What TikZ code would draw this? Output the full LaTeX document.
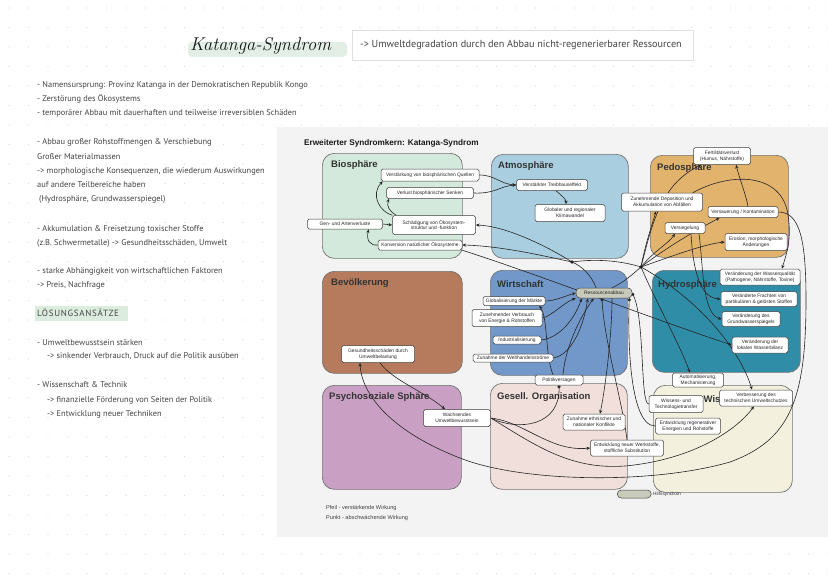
\documentclass[tikz,border=0pt]{standalone}
\usepackage{fontspec}
\usetikzlibrary{arrows.meta}
\newfontfamily\notefont{PT Sans}
\newfontfamily\diafont{Liberation Sans}
\definecolor{biocol}{HTML}{D3E9DB}
\definecolor{atmocol}{HTML}{A9CEE0}
\definecolor{pedocol}{HTML}{E2B36C}
\definecolor{bevcol}{HTML}{B67A5C}
\definecolor{wirtcol}{HTML}{7297C9}
\definecolor{hydrocol}{HTML}{2F8DA8}
\definecolor{psycol}{HTML}{C9A0C3}
\definecolor{gescol}{HTML}{F0DFDB}
\definecolor{wisscol}{HTML}{F3F1DE}
\definecolor{hilfscol}{HTML}{C8CABC}
\definecolor{hlgreen}{HTML}{DCECDF}
\definecolor{titlehl}{HTML}{E3EFE6}
\definecolor{notecol}{HTML}{444444}
\definecolor{scanbg}{HTML}{F3F3F3}
\definecolor{dotcol}{HTML}{D9D9D9}
\pgfdeclarelayer{paper}
\pgfdeclarelayer{spheres}
\pgfdeclarelayer{links}
\pgfsetlayers{paper,spheres,links,main}
\tikzset{
  sphere/.style={draw=black!55, line width=0.7pt, rounded corners=12pt, inner sep=0pt, anchor=north west},
  slabel/.style={anchor=west, inner sep=0pt, font=\diafont\bfseries\fontsize{9.5}{10}\selectfont, text=black!80},
  box/.style={draw=black!75, fill=white, line width=0.5pt, rounded corners=1.8pt, align=center, inner xsep=1pt, inner ysep=0.5pt, font=\diafont\fontsize{4.9}{5.6}\selectfont, text=black!85},
  hilfs/.style={box, fill=hilfscol, rounded corners=4pt},
  sz/.style 2 args={minimum width=#1pt, minimum height=#2pt},
  con/.style={line width=0.6pt, draw=black!85},
  ar/.style={con, -{Stealth[length=3.8pt,width=3.2pt]}},
  pt/.style={con, -{Circle[length=3.2pt]}},
  note/.style={anchor=base west, inner sep=0pt, font=\notefont\fontsize{8.4}{9}\selectfont, text=notecol},
  legend/.style={anchor=west, inner sep=0pt, font=\diafont\fontsize{5.6}{6}\selectfont, text=black!75},
}
\begin{document}
\begin{tikzpicture}[x=1pt,y=-1pt]
\useasboundingbox (0,0) rectangle (828,586);

% ---------- paper ----------
\begin{pgfonlayer}{paper}
\fill[white] (0,0) rectangle (828,586);
\foreach \i in {0,...,42}{
  \foreach \j in {0,...,29}{
    \fill[dotcol] (9+19.5*\i, 8+19.5*\j) circle (0.6pt);
  }
}
\fill[scanbg] (277,127) rectangle (828,537);
% title
\fill[titlehl, rounded corners=4pt] (188,42) rectangle (347,57);
\node[anchor=base west, inner sep=0pt, font=\fontsize{18.5}{20}\selectfont\itshape, text=black!90] (title) at (190,51) {Katanga-Syndrom};
\node[draw=black!12, line width=0.6pt, fill=white, minimum width=341pt, minimum height=30pt, anchor=north west, inner sep=0pt] (subbox) at (352,30) {};
\node[anchor=west, inner sep=0pt, font=\notefont\fontsize{10.2}{11}\selectfont, text=notecol] (subtitle) at (360,45) {-> Umweltdegradation durch den Abbau nicht-regenerierbarer Ressourcen};
% notes
\node[note] (n1) at (37,88) {- Namensursprung: Provinz Katanga in der Demokratischen Republik Kongo};
\node[note] (n2) at (37,102) {- Zerstörung des Ökosystems};
\node[note] (n3) at (37,116) {- temporärer Abbau mit dauerhaften und teilweise irreversiblen Schäden};
\node[note] (n4) at (37,144) {- Abbau großer Rohstoffmengen \& Verschiebung};
\node[note] (n5) at (37,159) {Großer Materialmassen};
\node[note] (n6) at (37,173) {-> morphologische Konsequenzen, die wiederum Auswirkungen};
\node[note] (n7) at (37,187) {auf andere Teilbereiche haben};
\node[note] (n8) at (39,201) {(Hydrosphäre, Grundwasserspiegel)};
\node[note] (n9) at (37,231) {- Akkumulation \& Freisetzung toxischer Stoffe};
\node[note] (n10) at (37,245) {(z.B. Schwermetalle) -> Gesundheitsschäden, Umwelt};
\node[note] (n11) at (37,273) {- starke Abhängigkeit von wirtschaftlichen Faktoren};
\node[note] (n12) at (37,287) {-> Preis, Nachfrage};
\fill[hlgreen] (35,306) rectangle (128,321);
\node[note, font=\notefont\fontsize{9}{10}\selectfont\addfontfeature{LetterSpace=8}] (n13) at (37,316) {LÖSUNGSANSÄTZE};
\node[note] (n14) at (37,345) {- Umweltbewusstsein stärken};
\node[note] (n15) at (47,358) {-> sinkender Verbrauch, Druck auf die Politik ausüben};
\node[note] (n16) at (37,387) {- Wissenschaft \& Technik};
\node[note] (n17) at (47,402) {-> finanzielle Förderung von Seiten der Politik};
\node[note] (n18) at (47,416) {-> Entwicklung neuer Techniken};
\end{pgfonlayer}

% ---------- spheres ----------
\begin{pgfonlayer}{spheres}
\node[anchor=west, inner sep=0pt, font=\diafont\bfseries\fontsize{8.2}{9}\selectfont, text=black!90] (dtitle) at (304,143) {Erweiterter Syndromkern: Katanga-Syndrom};
\node[sphere, fill=biocol, sz={140}{105}] (bio) at (322,153) {};
\node[sphere, fill=atmocol, sz={137}{104}] (atmo) at (491,154) {};
\node[sphere, fill=pedocol, sz={138}{102}] (pedo) at (650,155) {};
\node[sphere, fill=bevcol, sz={140}{102}] (bev) at (322,271) {};
\node[sphere, fill=wirtcol, sz={137}{105}] (wirt) at (490,270) {};
\node[sphere, fill=hydrocol, sz={148}{102}] (hydro) at (652,270) {};
\node[sphere, fill=psycol, sz={139}{104}] (psy) at (322,385) {};
\node[sphere, fill=gescol, sz={137}{106}] (ges) at (490,383) {};
\node[sphere, fill=wisscol, sz={139}{107}] (wissb) at (653,385) {};
\node[slabel] (lbio) at (331,165) {Biosphäre};
\node[slabel] (latmo) at (498,166) {Atmosphäre};
\node[slabel] (lpedo) at (657,168) {Pedosphäre};
\node[slabel] (lbev) at (331,283) {Bevölkerung};
\node[slabel] (lwirt) at (497,284) {Wirtschaft};
\node[slabel] (lhydro) at (658,285) {Hydrosphäre};
\node[slabel] (lpsy) at (329,397) {Psychosoziale Sphäre};
\node[slabel] (lges) at (497,397) {Gesell. Organisation};
\node[slabel] (lwiss) at (703.5,399) {Wis};
\node[legend] (leg1) at (326,508) {Pfeil - verstärkende Wirkung};
\node[legend] (leg2) at (326,518) {Punkt - abschwächende Wirkung};
\end{pgfonlayer}

% ---------- boxes ----------
\node[box, sz={98}{12}] (verst) at (430,175) {Verstärkung von biosphärischen Quellen};
\node[box, sz={87}{11}] (verl) at (430,193) {Verlust biosphärischer Senken};
\node[box, sz={83}{19}] (schad) at (434,225) {Schädigung von Ökosystem-\\struktur und -funktion};
\node[box, sz={75}{10}] (gen) at (345,224) {Gen- und Artenverluste};
\node[box, sz={84}{10}] (konv) at (420,245) {Konversion natürlicher Ökosysteme};
\node[box, sz={71}{11}] (treib) at (552,185) {Verstärkter Treibhauseffekt};
\node[box, sz={70}{17}] (klima) at (570,213) {Globaler und regionaler\\Klimawandel};
\node[box, sz={57}{17}] (fert) at (722,156) {Fertilitätsverlust\\(Humus, Nährstoffe)};
\node[box, sz={81}{18}] (depo) at (662,202) {Zunehmende Deposition und\\Akkumulation von Abfällen};
\node[box, sz={70}{11}] (versa) at (743,212) {Versauerung / Kontamination};
\node[box, sz={40}{11}] (versi) at (685,228) {Versiegelung};
\node[box, sz={62}{17}] (eros) at (756,242) {Erosion, morphologische\\Änderungen};
\node[box, sz={80}{16}] (wq) at (760,277) {Veränderung der Wasserqualität\\(Pathogene, Nährstoffe, Toxine)};
\node[box, sz={76}{15}] (fracht) at (759,299) {Veränderte Frachten von\\partikulären \& gelösten Stoffen};
\node[box, sz={58}{15}] (gw) at (751,319) {Veränderung des\\Grundwasserspiegels};
\node[box, sz={56}{16}] (wb) at (760,345) {Veränderung der\\lokalen Wasserbilanz};
\node[hilfs, sz={56}{10}] (ress) at (604,293) {Ressourcenabbau};
\node[box, sz={62}{9}] (glob) at (514,301) {Globalisierung der Märkte};
\node[box, sz={70}{17}] (verb) at (507,318) {Zunehmender Verbrauch\\von Energie \& Rohstoffen};
\node[box, sz={48}{8}] (indu) at (517,340) {Industrialisierung};
\node[box, sz={80}{8}] (welt) at (513,358) {Zunahme der Welthandelsströme};
\node[box, sz={48}{10}] (poli) at (559,380) {Politikversagen};
\node[box, sz={73}{17}] (gesund) at (378,354) {Gesundheitsschäden durch\\Umweltbelastung};
\node[box, sz={67}{17}] (wachs) at (457,418) {Wachsendes\\Umweltbewusstsein};
\node[box, sz={62}{16}] (konf) at (594,422) {Zunahme ethnischer und\\nationaler Konflikte};
\node[box, sz={73}{16}] (werk) at (627,448) {Entwicklung neuer Werkstoffe,\\stoffliche Substitution};
\node[box, sz={51}{14}] (auto) at (698,380) {Automatisierung,\\Mechanisierung};
\node[box, sz={54}{17}] (wiss) at (676,404) {Wissens- und\\Technologietransfer};
\node[box, sz={73}{16}] (verbess) at (756,398) {Verbesserung des\\technischen Umweltschutzes};
\node[box, sz={65}{16}] (regen) at (688,426) {Entwicklung regenerativer\\Energien und Rohstoffe};
\node[hilfs, sz={34}{8}, anchor=west] (hlg) at (617,494) {};
\node[anchor=west, inner sep=0pt, font=\diafont\fontsize{4.8}{5}\selectfont, text=black!80] (hlgtext) at (653,494) {Hilfssyndrom};

\coordinate (J1) at (572,262);
\coordinate (J2) at (641,267);

% ---------- connectors ----------
\begin{pgfonlayer}{links}
% Biosphäre / Atmosphäre
\draw[ar] (schad.north west) .. controls (380,212) and (370,195) .. ([xshift=2pt]verst.south west);
\draw[ar] ([xshift=4pt]schad.north west) .. controls (390,212) and (386,206) .. ([xshift=3pt]verl.south west);
\draw[ar] (gen.east) -- (schad.west);
\draw[ar] (konv.west) .. controls (370,246) and (366,240) .. ([xshift=-14pt]gen.south east);
\draw[ar] (verst.east) .. controls (495,175) and (500,184) .. (treib.west);
\draw[ar] (verl.east) .. controls (495,194) and (500,186) .. (treib.west);
\draw[ar] ([xshift=4pt]treib.south) .. controls (562,196) and (566,199) .. ([xshift=-4pt]klima.north);
% Ressourcenabbau hub
\draw[con] ([xshift=-8pt]ress.north) .. controls (592,276) and (582,266) .. (J1);
\draw[ar] (J1) .. controls (545,245) and (505,226) .. (schad.east);
\draw[ar] (J1) .. controls (540,255) and (500,246) .. (konv.east);
\draw[con] (J1) .. controls (600,258) and (625,262) .. (J2);
\draw[con] ([xshift=8pt]ress.north) .. controls (625,282) and (635,272) .. (J2);
% Pedosphäre
\draw[ar] (J2) .. controls (645,245) and (652,225) .. ([xshift=-6pt]depo.south);
\draw[ar] (J2) .. controls (655,250) and (668,244) .. ([xshift=-10pt]versi.south);
\draw[ar] (J2) .. controls (670,245) and (700,228) .. ([xshift=12pt]versa.south west);
\draw[ar] (J2) .. controls (675,255) and (705,244) .. (eros.west);
\draw[ar] (J2) .. controls (652,225) and (660,185) .. ([xshift=8pt]fert.south west);
\draw[ar] ([xshift=5pt]versa.north) .. controls (746,195) and (740,180) .. ([xshift=14pt]fert.south);
\draw[ar] ([xshift=-10pt]depo.north east) .. controls (730,172) and (782,172) .. (788,215) .. controls (792,240) and (786,255) .. ([xshift=22pt]wq.north);
% Hydrosphäre
\draw[ar] ([xshift=6pt]versi.south) .. controls (693,270) and (700,298) .. (fracht.west);
\draw[ar] ([xshift=14pt]versi.south) .. controls (703,262) and (702,315) .. (gw.west);
\draw[ar] (konv.south east) .. controls (540,275) and (650,318) .. (wb.west);
\draw[ar] (J2) .. controls (700,300) and (740,350) .. ([xshift=-4pt]verbess.north);
\draw[ar] (J2) .. controls (655,300) and (680,345) .. ([xshift=-8pt]auto.north);
\draw[ar] (versa.east) .. controls (800,212) and (806,240) .. (806,300) .. controls (806,400) and (790,440) .. (730,462) .. controls (650,485) and (520,482) .. (460,458) .. controls (400,435) and (362,400) .. ([xshift=-18pt]gesund.south);
% Wirtschaft
\draw[ar] (glob.east) .. controls (555,301) and (565,296) .. (ress.west);
\draw[ar] (verb.east) .. controls (552,316) and (563,303) .. (ress.south west);
\draw[ar] (indu.east) .. controls (560,338) and (575,318) .. ([xshift=6pt]ress.south west);
\draw[ar] (welt.east) .. controls (572,355) and (584,325) .. ([xshift=12pt]ress.south west);
\draw[ar] ([xshift=-6pt]poli.north) .. controls (545,355) and (548,318) .. ([xshift=-6pt]glob.south east);
\draw[ar] ([xshift=4pt]poli.north) .. controls (565,350) and (578,320) .. ([xshift=18pt]ress.south west);
\draw[ar] ([xshift=8pt]ress.south) .. controls (612,340) and (604,395) .. ([xshift=6pt]konf.north);
\draw[pt] (werk.north) .. controls (622,400) and (604,340) .. ([xshift=-2pt]ress.south);
\draw[pt] (wiss.west) .. controls (640,404) and (645,320) .. (ress.east);
\draw[pt] (regen.west) .. controls (628,426) and (628,330) .. ([xshift=-3pt]ress.south east);
% Bevölkerung / Psychosoziale / Gesellschaft / Wissenschaft
\draw[ar] ([xshift=2pt]gesund.south) .. controls (392,380) and (425,392) .. ([xshift=-12pt]wachs.north);
\draw[ar] (wachs.east) .. controls (525,422) and (550,452) .. (werk.west);
\draw[ar] (wachs.east) .. controls (535,445) and (570,470) .. (625,466) .. controls (690,460) and (735,432) .. ([xshift=-2pt]verbess.south);
\draw[pt] (wachs.east) .. controls (520,432) and (560,425) .. (poli.south);
\end{pgfonlayer}
\fill[black!85] (J1) circle (1.8pt);
\fill[black!85] (J2) circle (1.8pt);
\end{tikzpicture}
\end{document}
